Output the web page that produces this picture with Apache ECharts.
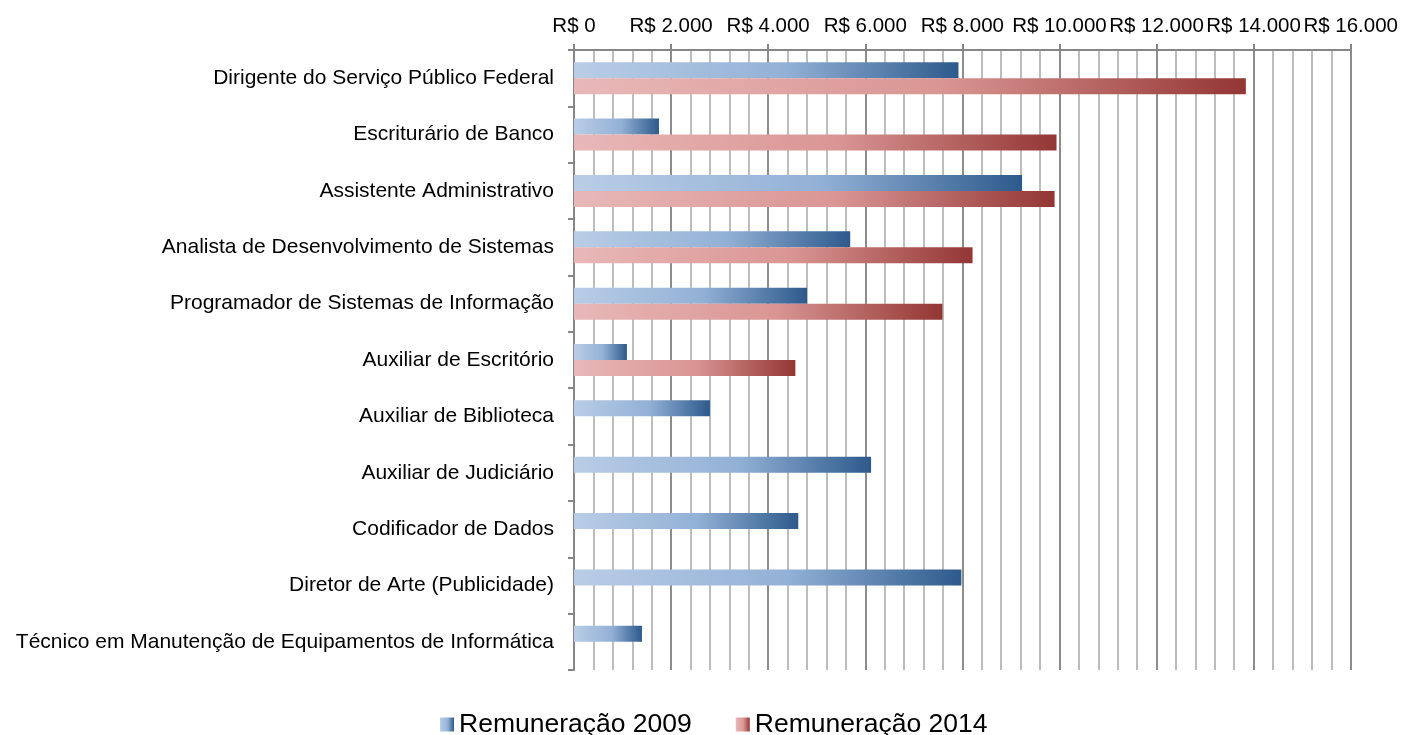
<!DOCTYPE html>
<html lang="pt">
<head>
    <meta charset="UTF-8">
    <title>Remuneração 2009 x 2014</title>
    <script src="https://cdn.jsdelivr.net/npm/echarts@6/dist/echarts.min.js"></script>
    <style>
        html, body { margin: 0; padding: 0; background: #fff; }
        #chart { width: 1401px; height: 735px; }
    </style>
</head>
<body>
<div id="chart"></div>
<script>
    var categorias = [
        'Dirigente do Serviço Público Federal',
        'Escriturário de Banco',
        'Assistente Administrativo',
        'Analista de Desenvolvimento de Sistemas',
        'Programador de Sistemas de Informação',
        'Auxiliar de Escritório',
        'Auxiliar de Biblioteca',
        'Auxiliar de Judiciário',
        'Codificador de Dados',
        'Diretor de Arte (Publicidade)',
        'Técnico em Manutenção de Equipamentos de Informática'
    ];
    var rem2009 = [7920, 1750, 9230, 5690, 4800, 1090, 2800, 6120, 4620, 7980, 1400];
    var rem2014 = [13840, 9940, 9900, 8210, 7590, 4560, null, null, null, null, null];
    var nomes = ['Remuneração 2009', 'Remuneração 2014'];

    function reais(v) {
        var s = String(Math.round(v)).replace(/\B(?=(\d{3})+(?!\d))/g, '.');
        return 'R$ ' + s;
    }

    // gradiente horizontal, claro -> escuro
    function grad(c0, c1, c2) {
        return new echarts.graphic.LinearGradient(0, 0, 1, 0, [
            { offset: 0, color: c0 },
            { offset: 0.55, color: c1 },
            { offset: 1, color: c2 }
        ]);
    }

    var myChart = echarts.init(document.getElementById('chart'));
    var option = {
        animation: false,
        textStyle: { fontFamily: 'Liberation Sans, Arial, sans-serif', color: '#000' },
        grid: { left: 574, right: 50, top: 50, bottom: 65 },
        legend: {
            top: 706,
            left: 435,
            itemWidth: 14,
            itemHeight: 14,
            itemGap: 44,
            icon: 'rect',
            textStyle: { fontSize: 26.5, color: '#000' },
            data: nomes
        },
        xAxis: {
            type: 'value',
            position: 'top',
            min: 0,
            max: 16000,
            interval: 2000,
            axisLine: { show: true, lineStyle: { color: '#868686', width: 2 } },
            axisTick: { show: true, length: 6, lineStyle: { color: '#868686', width: 2 } },
            axisLabel: { fontSize: 20.5, color: '#000', margin: 13, formatter: reais },
            splitLine: { show: true, lineStyle: { color: '#8c8c8c', width: 2 } },
            minorTick: { show: false, splitNumber: 5 },
            minorSplitLine: { show: true, lineStyle: { color: '#bdbdbd', width: 2 } }
        },
        yAxis: {
            type: 'category',
            inverse: true,
            data: categorias,
            axisLine: { show: true, lineStyle: { color: '#868686', width: 2 } },
            axisTick: { show: true, length: 6, lineStyle: { color: '#868686', width: 2 } },
            axisLabel: { fontSize: 21, color: '#000', margin: 20, padding: [4, 0, 0, 0] },
            splitLine: { show: false }
        },
        series: [
            {
                name: nomes[0],
                type: 'bar',
                data: rem2009,
                barWidth: 16,
                barGap: '0%',
                itemStyle: { color: grad('#b9cde6', '#93b1d6', '#2d5a8c') }
            },
            {
                name: nomes[1],
                type: 'bar',
                data: rem2014,
                barWidth: 16,
                barGap: '0%',
                itemStyle: { color: grad('#e8b8b8', '#d99593', '#933634') }
            }
        ]
    };
    myChart.setOption(option);
</script>
</body>
</html>
